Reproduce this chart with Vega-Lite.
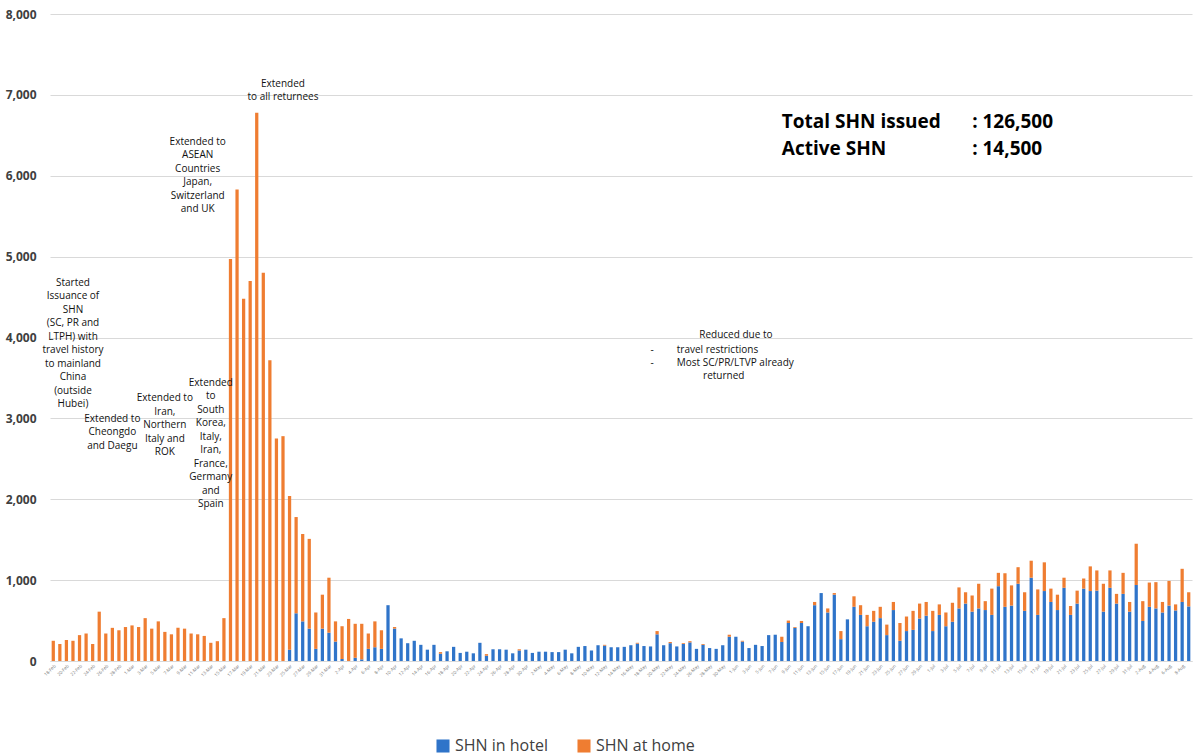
{
  "$schema": "https://vega.github.io/schema/vega-lite/v6.json",
  "autosize": {"type": "fit", "contains": "padding"},
  "width": 1194,
  "height": 756,
  "padding": {"left": 5, "right": 2, "top": 8, "bottom": 78},
  "config": {"view": {"stroke": null}, "font": "Open Sans"},
  "datasets": {
    "notes": [
      {"d": 3, "v": 4740, "t": "Started\nIssuance of\nSHN\n(SC, PR and\nLTPH) with\ntravel history\nto mainland\nChina\n(outside\nHubei)"},
      {"d": 9, "v": 3060, "t": "Extended to\nCheongdo\nand Daegu"},
      {"d": 17, "v": 3310, "t": "Extended to\nIran,\nNorthern\nItaly and\nROK"},
      {"d": 24, "v": 3500, "t": "Extended\nto\nSouth\nKorea,\nItaly,\nIran,\nFrance,\nGermany\nand\nSpain"},
      {"d": 22, "v": 6480, "t": "Extended to\nASEAN\nCountries\nJapan,\nSwitzerland\nand UK"},
      {"d": 35, "v": 7200, "t": "Extended\nto all returnees"},
      {"d": 104, "v": 4090, "t": "Reduced due to"}
    ],
    "leftnotes": [
      {"d": 91, "v": 3910, "t": "-\n-"},
      {"d": 95, "v": 3910, "t": "travel restrictions\nMost SC/PR/LTVP already"},
      {"d": 99, "v": 3580, "t": "returned"}
    ],
    "totals": [
      {"d": 111, "v": 6660, "t": "Total SHN issued"},
      {"d": 111, "v": 6330, "t": "Active SHN"},
      {"d": 140, "v": 6660, "t": ": 126,500"},
      {"d": 140, "v": 6330, "t": ": 14,500"}
    ],
    "bars": [
      {"d":0,"t":250,"h":0},{"d":1,"t":210,"h":0},{"d":2,"t":260,"h":0},{"d":3,"t":250,"h":0},{"d":4,"t":320,"h":0},{"d":5,"t":340,"h":0},{"d":6,"t":210,"h":0},{"d":7,"t":610,"h":0},{"d":8,"t":340,"h":0},{"d":9,"t":410,"h":0},
      {"d":10,"t":380,"h":0},{"d":11,"t":420,"h":0},{"d":12,"t":440,"h":0},{"d":13,"t":420,"h":0},{"d":14,"t":530,"h":0},{"d":15,"t":400,"h":0},{"d":16,"t":490,"h":0},{"d":17,"t":360,"h":0},{"d":18,"t":330,"h":0},{"d":19,"t":410,"h":0},
      {"d":20,"t":400,"h":0},{"d":21,"t":340,"h":0},{"d":22,"t":330,"h":0},{"d":23,"t":310,"h":0},{"d":24,"t":225,"h":0},{"d":25,"t":245,"h":0},{"d":26,"t":530,"h":0},
      {"d":27,"t":4970,"h":0},{"d":28,"t":5830,"h":0},{"d":29,"t":4480,"h":0},{"d":30,"t":4700,"h":0},{"d":31,"t":6780,"h":0},{"d":32,"t":4800,"h":0},{"d":33,"t":3720,"h":0},{"d":34,"t":2750,"h":0},{"d":35,"t":2780,"h":0},
      {"d":36,"t":2040,"h":140},{"d":37,"t":1780,"h":590},{"d":38,"t":1570,"h":490},{"d":39,"t":1510,"h":400},{"d":40,"t":600,"h":150},{"d":41,"t":820,"h":400},{"d":42,"t":1030,"h":350},{"d":43,"t":490,"h":240},{"d":44,"t":430,"h":25},{"d":45,"t":520,"h":0},
      {"d":46,"t":460,"h":40},{"d":47,"t":460,"h":20},{"d":48,"t":340,"h":150},{"d":49,"t":490,"h":170},{"d":50,"t":380,"h":150},{"d":51,"t":690,"h":690},{"d":52,"t":420,"h":400},{"d":53,"t":280,"h":280},{"d":54,"t":220,"h":220},{"d":55,"t":250,"h":250},
      {"d":56,"t":200,"h":200},{"d":57,"t":140,"h":140},{"d":58,"t":200,"h":200},{"d":59,"t":110,"h":90},{"d":60,"t":120,"h":120},{"d":61,"t":175,"h":175},{"d":62,"t":100,"h":100},{"d":63,"t":115,"h":115},{"d":64,"t":95,"h":95},{"d":65,"t":225,"h":225},
      {"d":66,"t":85,"h":65},{"d":67,"t":145,"h":145},{"d":68,"t":145,"h":145},{"d":69,"t":140,"h":140},{"d":70,"t":95,"h":95},{"d":71,"t":145,"h":130},{"d":72,"t":140,"h":140},{"d":73,"t":100,"h":100},{"d":74,"t":115,"h":115},{"d":75,"t":115,"h":115},
      {"d":76,"t":110,"h":110},{"d":77,"t":110,"h":110},{"d":78,"t":140,"h":140},{"d":79,"t":95,"h":95},{"d":80,"t":175,"h":175},{"d":81,"t":185,"h":185},{"d":82,"t":130,"h":130},{"d":83,"t":195,"h":195},{"d":84,"t":200,"h":190},{"d":85,"t":170,"h":170},
      {"d":86,"t":170,"h":170},{"d":87,"t":175,"h":175},{"d":88,"t":195,"h":195},{"d":89,"t":225,"h":215},{"d":90,"t":185,"h":185},{"d":91,"t":180,"h":180},{"d":92,"t":370,"h":330},{"d":93,"t":195,"h":195},{"d":94,"t":235,"h":220},{"d":95,"t":180,"h":180},
      {"d":96,"t":220,"h":210},{"d":97,"t":245,"h":230},{"d":98,"t":150,"h":150},{"d":99,"t":210,"h":200},{"d":100,"t":160,"h":160},{"d":101,"t":150,"h":150},{"d":102,"t":195,"h":195},{"d":103,"t":325,"h":300},{"d":104,"t":300,"h":300},{"d":105,"t":250,"h":240},
      {"d":106,"t":160,"h":160},{"d":107,"t":200,"h":200},{"d":108,"t":185,"h":185},{"d":109,"t":320,"h":320},{"d":110,"t":325,"h":325},{"d":111,"t":300,"h":235},{"d":112,"t":500,"h":470},{"d":113,"t":420,"h":410},
      {"d":114,"t":495,"h":470},{"d":115,"t":430,"h":430},{"d":116,"t":730,"h":690},{"d":117,"t":840,"h":840},{"d":118,"t":650,"h":600},{"d":119,"t":840,"h":820},{"d":120,"t":370,"h":270},{"d":121,"t":515,"h":515},{"d":122,"t":800,"h":670},{"d":123,"t":690,"h":570},
      {"d":124,"t":570,"h":430},{"d":125,"t":620,"h":485},{"d":126,"t":670,"h":530},{"d":127,"t":450,"h":320},{"d":128,"t":730,"h":630},{"d":129,"t":470,"h":250},{"d":130,"t":550,"h":370},{"d":131,"t":620,"h":385},{"d":132,"t":710,"h":525},{"d":133,"t":730,"h":560},
      {"d":134,"t":620,"h":370},{"d":135,"t":700,"h":570},{"d":136,"t":600,"h":430},{"d":137,"t":720,"h":485},{"d":138,"t":910,"h":650},{"d":139,"t":850,"h":710},{"d":140,"t":810,"h":610},{"d":141,"t":955,"h":650},{"d":142,"t":740,"h":630},{"d":143,"t":895,"h":570},
      {"d":144,"t":1090,"h":925},{"d":145,"t":1085,"h":670},{"d":146,"t":935,"h":685},{"d":147,"t":1160,"h":955},{"d":148,"t":850,"h":620},{"d":149,"t":1240,"h":1030},{"d":150,"t":885,"h":570},{"d":151,"t":1220,"h":865},{"d":152,"t":895,"h":730},{"d":153,"t":820,"h":630},
      {"d":154,"t":1030,"h":905},{"d":155,"t":680,"h":570},{"d":156,"t":870,"h":710},{"d":157,"t":1020,"h":895},{"d":158,"t":1170,"h":865},{"d":159,"t":1120,"h":870},{"d":160,"t":955,"h":610},{"d":161,"t":1120,"h":905},{"d":162,"t":830,"h":710},{"d":163,"t":1090,"h":830},
      {"d":164,"t":730,"h":610},{"d":165,"t":1450,"h":940},{"d":166,"t":740,"h":495},{"d":167,"t":970,"h":670},{"d":168,"t":975,"h":650},{"d":169,"t":730,"h":600},{"d":170,"t":990,"h":685},{"d":171,"t":700,"h":625},{"d":172,"t":1140,"h":730},{"d":173,"t":850,"h":675}
    ]
  },
  "layer": [
    {
      "data": {"name": "bars"},
      "transform": [
        {"calculate": "datum.h", "as": "SHN in hotel"},
        {"calculate": "datum.t - datum.h", "as": "SHN at home"},
        {"fold": ["SHN in hotel", "SHN at home"], "as": ["k", "n"]},
        {"calculate": "datum.k == 'SHN in hotel' ? 0 : 1", "as": "o"}
      ],
      "mark": {"type": "bar", "width": {"band": 0.55}},
      "encoding": {
        "x": {
          "field": "d", "type": "ordinal", "title": null,
          "axis": {
            "labelAngle": -45, "labelFontSize": 4.5, "labelColor": "#777", "ticks": false,
            "domainColor": "#d9d9d9",
            "labelExpr": "datum.value % 2 == 0 ? timeFormat(datetime(2020, 1, 18 + datum.value), '%-d-%b') : ''"
          }
        },
        "y": {
          "field": "n", "type": "quantitative", "stack": "zero", "title": null,
          "scale": {"domain": [0, 8000]},
          "axis": {
            "values": [0, 1000, 2000, 3000, 4000, 5000, 6000, 7000, 8000],
            "labelExpr": "format(datum.value, ',')", "labelFontWeight": "bold", "labelFontSize": 12, "labelColor": "#404040",
            "ticks": false, "domain": false, "gridColor": "#d9d9d9", "labelPadding": 14
          }
        },
        "color": {
          "field": "k", "type": "nominal", "title": null,
          "scale": {"domain": ["SHN in hotel", "SHN at home"], "range": ["#2f74c9", "#ef7d31"]},
          "legend": {
            "orient": "none", "legendX": 385, "legendY": 724, "direction": "horizontal", "symbolType": "square", "symbolSize": 170,
            "labelFontSize": 16, "labelColor": "#404040", "columnPadding": 28
          }
        },
        "order": {"field": "o"}
      }
    },
    {
      "data": {"name": "notes"},
      "mark": {"type": "text", "fontSize": 10, "lineBreak": "\n", "lineHeight": 13.5, "baseline": "top", "align": "center", "color": "#111"},
      "encoding": {
        "x": {"field": "d", "type": "ordinal"},
        "y": {"field": "v", "type": "quantitative"},
        "text": {"field": "t"}
      }
    },
    {
      "data": {"name": "leftnotes"},
      "mark": {"type": "text", "fontSize": 10, "lineBreak": "\n", "lineHeight": 13.5, "baseline": "top", "align": "left", "color": "#111"},
      "encoding": {
        "x": {"field": "d", "type": "ordinal"},
        "y": {"field": "v", "type": "quantitative"},
        "text": {"field": "t"}
      }
    },
    {
      "data": {"name": "totals"},
      "mark": {"type": "text", "fontSize": 19, "fontWeight": "bold", "align": "left", "baseline": "middle", "color": "#000"},
      "encoding": {
        "x": {"field": "d", "type": "ordinal"},
        "y": {"field": "v", "type": "quantitative"},
        "text": {"field": "t"}
      }
    }
  ]
}
